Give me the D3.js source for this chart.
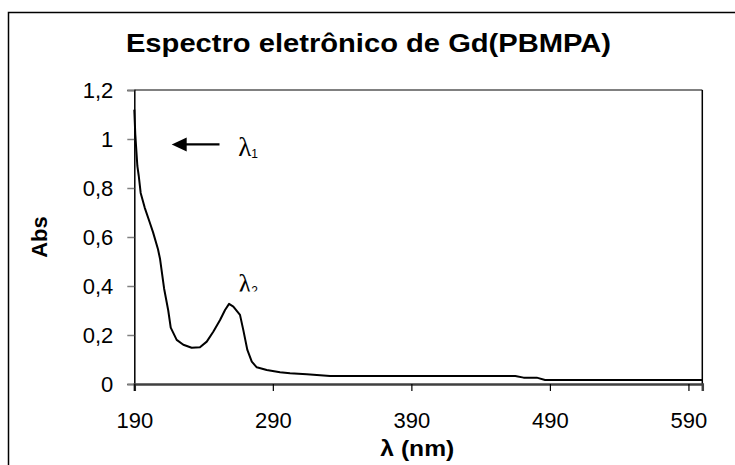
<!DOCTYPE html>
<html>
<head>
<meta charset="utf-8">
<script src="https://cdn.jsdelivr.net/npm/d3@7"></script>
<style>
  html, body { margin: 0; padding: 0; background: #fff; }
  svg { display: block; }
</style>
</head>
<body>
<svg id="chart" width="735" height="465"></svg>
<script>
// Absorption spectrum of Gd(PBMPA): wavelength (nm) vs absorbance
const wavelength = [190, 190.7, 192.2, 193.2, 194.6, 197.5, 201.1, 203.5, 207.1, 208.6,
  211.5, 214.5, 216.3, 220.6, 225.4, 231.4, 237.4, 242.3, 247, 251.9,
  255.5, 258.4, 261.5, 266.3, 268.7, 271.6, 274.8, 278.4, 285.6, 295.2,
  302.4, 314.5, 331.3, 450, 465, 471, 480.5, 486.5, 600];
const absorbance = [1.12, 1.02, 0.89, 0.85, 0.78, 0.72, 0.66, 0.62, 0.55, 0.51,
  0.39, 0.30, 0.23, 0.18, 0.16, 0.148, 0.15, 0.173, 0.213, 0.261,
  0.302, 0.327, 0.316, 0.282, 0.22, 0.139, 0.091, 0.068, 0.057, 0.048,
  0.044, 0.04, 0.033, 0.033, 0.033, 0.026, 0.026, 0.016, 0.016];

const xTicks = [190, 290, 390, 490, 590];
const yTicks = [0, 0.2, 0.4, 0.6, 0.8, 1, 1.2];

const titleText = "Espectro eletrônico de Gd(PBMPA)";
const xTitle = "λ (nm)";
const yTitle = "Abs";

// Band annotations: label position (nm, Abs) and subscript
const bandLabels = [
  { name: "λ", sub: "1", nm: 265, abs: 0.93 },
  { name: "λ", sub: "2", nm: 265, abs: 0.372 }
];
// Arrow pointing at the first band: [start nm, end nm, Abs]
const arrowSpan = [251.5, 217, 0.978];

const svg = d3.select("#chart");
const font = "'Liberation Sans', Arial, sans-serif";

const x = d3.scaleLinear().domain([190, 600]).range([134.3, 702.3]);
const y = d3.scaleLinear().domain([0, 1.2]).range([384, 90]);

// Outer chart frame
svg.append("rect")
  .attr("x", 8.5).attr("y", 12.5)
  .attr("width", 760).attr("height", 480)
  .attr("fill", "none").attr("stroke", "#000").attr("stroke-width", 1.5);

// Title (slightly widened lettering)
svg.append("text")
  .attr("transform", "translate(368.5,52) scale(1.1,1)")
  .attr("text-anchor", "middle")
  .attr("font-family", font).attr("font-weight", "bold").attr("font-size", 26.5)
  .text(titleText);

// Plot area border (top gray, right black)
svg.append("line")
  .attr("x1", x(190)).attr("x2", x(600)).attr("y1", y(1.2)).attr("y2", y(1.2))
  .attr("stroke", "#808080").attr("stroke-width", 2);
svg.append("line")
  .attr("x1", x(600)).attr("x2", x(600)).attr("y1", y(1.2)).attr("y2", y(0))
  .attr("stroke", "#000").attr("stroke-width", 1.5);

// Y axis
const fmt = d => String(+d.toFixed(1)).replace(".", ",");
const yAxis = svg.append("g")
  .attr("transform", `translate(${x(190)},0)`)
  .call(d3.axisLeft(y).tickValues(yTicks).tickFormat(fmt).tickSize(7).tickPadding(14));
yAxis.select(".domain").attr("stroke", "#000").attr("stroke-width", 1.5);
yAxis.selectAll(".tick line").attr("stroke", "#808080").attr("stroke-width", 1.5);
yAxis.selectAll("text")
  .attr("font-family", font).attr("font-size", 22).attr("fill", "#000");

// X axis
const xAxis = svg.append("g")
  .attr("transform", `translate(0,${y(0)})`)
  .call(d3.axisBottom(x).tickValues(xTicks).tickFormat(d3.format("d")).tickSize(7).tickPadding(21));
xAxis.select(".domain").attr("stroke", "#404040").attr("stroke-width", 2.5);
xAxis.selectAll(".tick line").attr("stroke", "#000").attr("stroke-width", 1.2);
xAxis.selectAll("text")
  .attr("font-family", font).attr("font-size", 22).attr("fill", "#000");

// Axis titles
svg.append("text")
  .attr("transform", `translate(${(x(190) + x(600)) / 2 - 1},456) scale(1.12,1)`)
  .attr("text-anchor", "middle")
  .attr("font-family", font).attr("font-weight", "bold").attr("font-size", 22)
  .text(xTitle);
svg.append("text")
  .attr("transform", `translate(47,${(y(0) + y(1.2)) / 2}) rotate(-90)`)
  .attr("text-anchor", "middle")
  .attr("font-family", font).attr("font-weight", "bold").attr("font-size", 22)
  .text(yTitle);

// Spectrum line
const pts = wavelength.map((w, i) => [w, absorbance[i]]);
const line = d3.line().x(d => x(d[0])).y(d => y(d[1])).curve(d3.curveLinear);
svg.append("path")
  .datum(pts)
  .attr("d", line)
  .attr("fill", "none").attr("stroke", "#000").attr("stroke-width", 2)
  .attr("stroke-linejoin", "round");

// Arrow
const ay = y(arrowSpan[2]);
svg.append("line")
  .attr("x1", x(arrowSpan[0])).attr("x2", x(arrowSpan[1]) + 14)
  .attr("y1", ay).attr("y2", ay)
  .attr("stroke", "#000").attr("stroke-width", 2.3);
svg.append("path")
  .attr("d", `M${x(arrowSpan[1])},${ay} L${x(arrowSpan[1]) + 15},${ay - 7} L${x(arrowSpan[1]) + 15},${ay + 7} Z`)
  .attr("fill", "#000");

// Band labels (the second one sits in a box that trims its lower edge)
svg.append("clipPath").attr("id", "lblclip")
  .append("rect").attr("x", 0).attr("y", 0).attr("width", 735).attr("height", 291.5);

bandLabels.forEach((b, i) => {
  const t = svg.append("text")
    .attr("x", x(b.nm)).attr("y", y(b.abs))
    .attr("font-family", "'Liberation Serif', 'Times New Roman', serif")
    .attr("font-size", 27).attr("fill", "#000");
  if (i === 1) t.attr("clip-path", "url(#lblclip)");
  t.append("tspan").text(b.name);
  t.append("tspan").attr("font-family", font).attr("font-size", 12).attr("dy", 2).text(b.sub);
});
</script>
</body>
</html>
